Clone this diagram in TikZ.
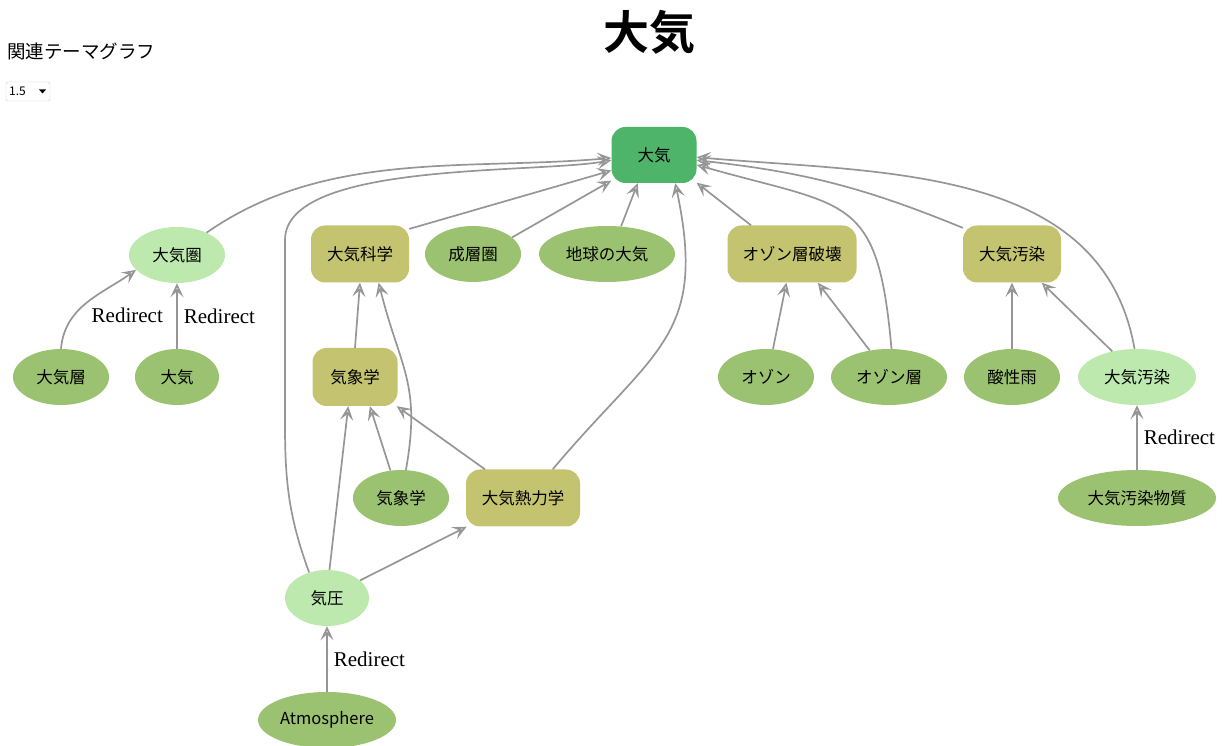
\documentclass[tikz,border=0pt]{standalone}
\usepackage{fontspec}
\setmainfont{Noto Sans CJK JP}[BoldFont={Noto Sans CJK JP Bold}]
\newfontfamily\rdfont{Liberation Serif}
\usetikzlibrary{shapes.geometric,arrows.meta}
\definecolor{rootgreen}{RGB}{77,180,105}
\definecolor{topicolive}{RGB}{196,195,112}
\definecolor{leafgreen}{RGB}{155,194,112}
\definecolor{redirgreen}{RGB}{189,233,175}
\definecolor{linkgray}{RGB}{150,150,150}
\newcommand{\nf}{\fontsize{16.5}{18}\selectfont}

\begin{document}
\begin{tikzpicture}[x=1pt,y=1pt,
      leaf/.style={ellipse,fill=leafgreen,minimum height=56pt,inner sep=0pt,font=\nf},
      redir/.style={ellipse,fill=redirgreen,minimum height=56pt,inner sep=0pt,font=\nf},
      topic/.style={rectangle,rounded corners=14pt,fill=topicolive,minimum height=57pt,inner sep=0pt,font=\nf},
      link/.style={draw=linkgray,line width=1.7pt,-{Stealth[open,length=14pt,width=13pt,inset=6pt]}},
      rdlabel/.style={right,font=\rdfont\fontsize{21}{24}\selectfont,inner sep=6pt}]
      \useasboundingbox (0,0) rectangle (1229,745);
      \node[font=\bfseries\fontsize{46}{50}\selectfont] (title) at (649,713) {大気};
      \node[anchor=west,font=\fontsize{18.5}{20}\selectfont,inner sep=0pt] (head) at (7,694) {関連テーマグラフ};
      \draw[gray!40,rounded corners=1.5pt] (6,644) rectangle (50,663);
      \node[anchor=west,font=\fontsize{12}{13}\selectfont,inner sep=0pt] (zoom) at (9,653.5) {1.5};
      \fill (39,655.5) -- (46,655.5) -- (42.5,651.5) -- cycle;

      \node[topic,fill=rootgreen,minimum width=85pt,minimum height=56pt] (root) at (654,590) {大気};
      \node[redir,minimum width=96pt] (kiken) at (177,490) {大気圏};
      \node[leaf,minimum width=96pt] (sou) at (61,368) {大気層};
      \node[leaf,minimum width=84pt] (taiki) at (177,368) {大気};
      \node[topic,minimum width=98pt] (kagaku) at (360,491) {大気科学};
      \node[leaf,minimum width=96pt] (seisou) at (473,491) {成層圏};
      \node[leaf,minimum width=136pt] (chikyu) at (607,491) {地球の大気};
      \node[topic,minimum width=129pt] (hakai) at (792,491) {オゾン層破壊};
      \node[topic,minimum width=98pt] (osen) at (1012,491) {大気汚染};
      \node[topic,minimum width=85pt,minimum height=58pt] (kishou) at (355,368) {気象学};
      \node[leaf,minimum width=96pt] (ozon) at (766,368) {オゾン};
      \node[leaf,minimum width=116pt] (ozonsou) at (889,368) {オゾン層};
      \node[leaf,minimum width=96pt] (sansei) at (1012,368) {酸性雨};
      \node[redir,minimum width=118pt] (osen2) at (1137,368) {大気汚染};
      \node[leaf,minimum width=96pt] (kishou2) at (401,247) {気象学};
      \node[topic,minimum width=114pt] (netsu) at (523,247) {大気熱力学};
      \node[redir,minimum width=84pt] (kiatsu) at (327,147) {気圧};
      \node[leaf,minimum width=138pt] (atmos) at (327,25) {Atmosphere};
      \node[leaf,minimum width=158pt] (busshitsu) at (1137,247) {大気汚染物質};

      \draw[link] (kiken.37) to[out=35,in=185,looseness=0.9] (root.184);
      \draw[link] (sou.north) to[out=85,in=215] node[rdlabel,anchor=north west,inner sep=4pt] {Redirect} (kiken.200);
      \draw[link] (taiki.north) -- node[rdlabel] {Redirect} (kiken.south);
      \draw[link] (kagaku.27) -- (root.200);
      \draw[link] (seisou.23) -- (root.211);
      \draw[link] (chikyu.63) -- (root.240);
      \draw[link] (kiatsu.125) to[out=110,in=-90] (285,320) -- (285,505) to[out=90,in=190,looseness=0.6] (root.187);
      \draw[link] (netsu.44) to[out=50,in=-78,looseness=1.3] (root.307);
      \draw[link] (hakai.145) -- (root.327);
      \draw[link] (ozonsou.85) to[out=95,in=-16,looseness=1.5] (root.347);
      \draw[link] (osen.152) to[bend right=8] (root.353);
      \draw[link] (osen2.95) to[out=100,in=-5] (root.357);
      \draw[link] (ozon.76) -- (hakai.259);
      \draw[link] (ozonsou.126) -- (hakai.312);
      \draw[link] (sansei.north) -- (osen.south);
      \draw[link] (osen2.134) -- (osen.316);
      \draw[link] (busshitsu.north) -- node[rdlabel] {Redirect} (osen2.south);
      \draw[link] (kishou.north) -- (kagaku.south);
      \draw[link] (kishou2.80) to[out=80,in=-76,looseness=1.2] (kagaku.303);
      \draw[link] (kishou2.111) -- (kishou.297);
      \draw[link] (netsu.143) -- (kishou.325);
      \draw[link] (kiatsu.85) -- (kishou.257);
      \draw[link] (kiatsu.28) -- (netsu.207);
      \draw[link] (atmos.north) -- node[rdlabel] {Redirect} (kiatsu.south);
\end{tikzpicture}
\end{document}
